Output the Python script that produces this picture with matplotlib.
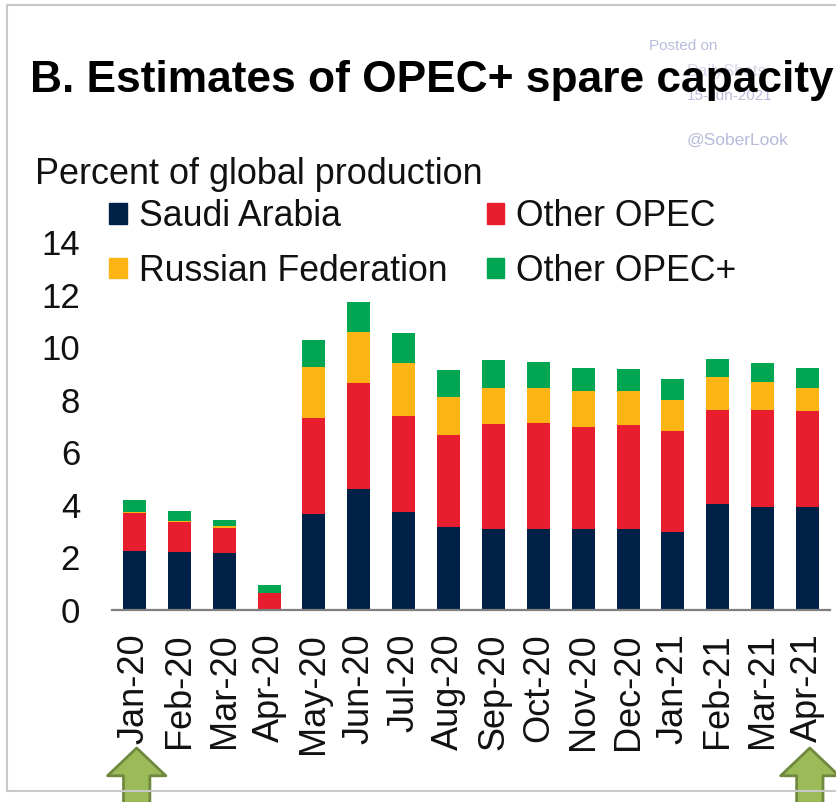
import numpy as np
import matplotlib
matplotlib.use("Agg")
from matplotlib import pyplot as plt
from matplotlib.patches import Rectangle
from matplotlib.lines import Line2D

plt.rcParams['font.family'] = ['Liberation Sans', 'DejaVu Sans']

months = ['Jan-20', 'Feb-20', 'Mar-20', 'Apr-20', 'May-20', 'Jun-20', 'Jul-20', 'Aug-20',
          'Sep-20', 'Oct-20', 'Nov-20', 'Dec-20', 'Jan-21', 'Feb-21', 'Mar-21', 'Apr-21']
saudi = [2.25, 2.19, 2.16, 0.0, 3.65, 4.59, 3.71, 3.14, 3.07, 3.08, 3.07, 3.07, 2.97, 4.02, 3.93, 3.93]
other_opec = [1.44, 1.16, 0.95, 0.63, 3.64, 4.03, 3.68, 3.51, 3.99, 4.02, 3.90, 3.96, 3.84, 3.58, 3.67, 3.64]
russia = [0.03, 0.05, 0.10, 0.0, 1.96, 1.96, 1.99, 1.46, 1.39, 1.35, 1.37, 1.30, 1.17, 1.25, 1.07, 0.88]
other_plus = [0.47, 0.35, 0.21, 0.32, 1.02, 1.14, 1.14, 1.02, 1.06, 0.99, 0.87, 0.82, 0.81, 0.71, 0.71, 0.76]
yticks = [0, 2, 4, 6, 8, 10, 12, 14]

c_saudi = '#002147'
c_opec = '#E81D2E'
c_russia = '#FDB515'
c_plus = '#00A651'

W, H = 836, 802
fig = plt.figure(figsize=(W / 100, H / 100), dpi=100)

def fx(px):
    return px / W

def fy(py):
    return 1 - py / H

# grey frame of the screenshot
fig.add_artist(Line2D([fx(7), fx(7)], [fy(5), fy(791)], color='#C8C8C8', lw=1.5))
fig.add_artist(Line2D([fx(7), 1.0], [fy(5), fy(5)], color='#C8C8C8', lw=1.5))
fig.add_artist(Line2D([fx(7), 1.0], [fy(791), fy(791)], color='#C8C8C8', lw=1.5))

# watermark (sits behind the title like in the source)
wm = '#B8BCDA'
fig.text(fx(649), fy(50), 'Posted on', color=wm, fontsize=11, va='baseline')
fig.text(fx(687), fy(76), 'DailyShots', color='#D4D7EA', fontsize=12, va='baseline')
fig.text(fx(687), fy(100), '15-Jun-2021', color=wm, fontsize=11, va='baseline')
fig.text(fx(687), fy(145), '@SoberLook', color=wm, fontsize=12.5, va='baseline')

fig.text(fx(30), fy(92), 'B. Estimates of OPEC+ spare capacity', fontsize=31.9,
         fontweight='bold', va='baseline')
fig.text(fx(35), fy(184), 'Percent of global production', fontsize=25.9, va='baseline',
         color='#111111')

ax = fig.add_axes([fx(112), fy(610), fx(830 - 112), (610 - 242) / H])
x = np.arange(len(months))
bw = 0.51
ax.bar(x, saudi, bw, color=c_saudi, label='Saudi Arabia')
bottom = np.array(saudi)
ax.bar(x, other_opec, bw, bottom=bottom, color=c_opec, label='Other OPEC')
bottom = bottom + np.array(other_opec)
ax.bar(x, russia, bw, bottom=bottom, color=c_russia, label='Russian Federation')
bottom = bottom + np.array(russia)
ax.bar(x, other_plus, bw, bottom=bottom, color=c_plus, label='Other OPEC+')

ax.set_xlim(-0.5, len(months) - 0.5)
ax.set_ylim(0, 14)
ax.set_yticks(yticks)
ax.set_xticks(x)
ax.set_xticklabels(months, rotation=90)
for s in ['top', 'right', 'left']:
    ax.spines[s].set_visible(False)
ax.spines['bottom'].set_color('#7F7F7F')
ax.spines['bottom'].set_linewidth(1.6)
ax.tick_params(axis='y', length=0, pad=23, labelsize=25, labelcolor='#111111')
ax.tick_params(axis='x', length=0, pad=17, labelsize=26, labelcolor='#111111')

handles = [Rectangle((0, 0), 1, 1, color=c) for c in [c_saudi, c_russia, c_opec, c_plus]]
labels = ['Saudi Arabia', 'Russian Federation', 'Other OPEC', 'Other OPEC+']
ax.legend(handles, labels, ncol=2, loc='upper left', bbox_to_anchor=(fx(109), fy(199)),
          bbox_transform=fig.transFigure, frameon=False, fontsize=25.7,
          handlelength=0.5, handleheight=0.5, handletextpad=0.33, columnspacing=1.1,
          labelspacing=0.55, borderpad=0, borderaxespad=0, labelcolor='#111111')

# green arrows under first and last months
for xi in [0, len(months) - 1]:
    ax.annotate('', xy=(xi + 0.05, fy(748)), xycoords=('data', 'figure fraction'),
                xytext=(xi + 0.05, -0.02), textcoords=('data', 'figure fraction'),
                arrowprops=dict(arrowstyle='simple,head_width=42,head_length=20,tail_width=19',
                                mutation_scale=1, fc='#9BBB59', ec='#71893F', lw=2,
                                shrinkA=0, shrinkB=0),
                annotation_clip=False)

fig.savefig('out.png', dpi=100)
